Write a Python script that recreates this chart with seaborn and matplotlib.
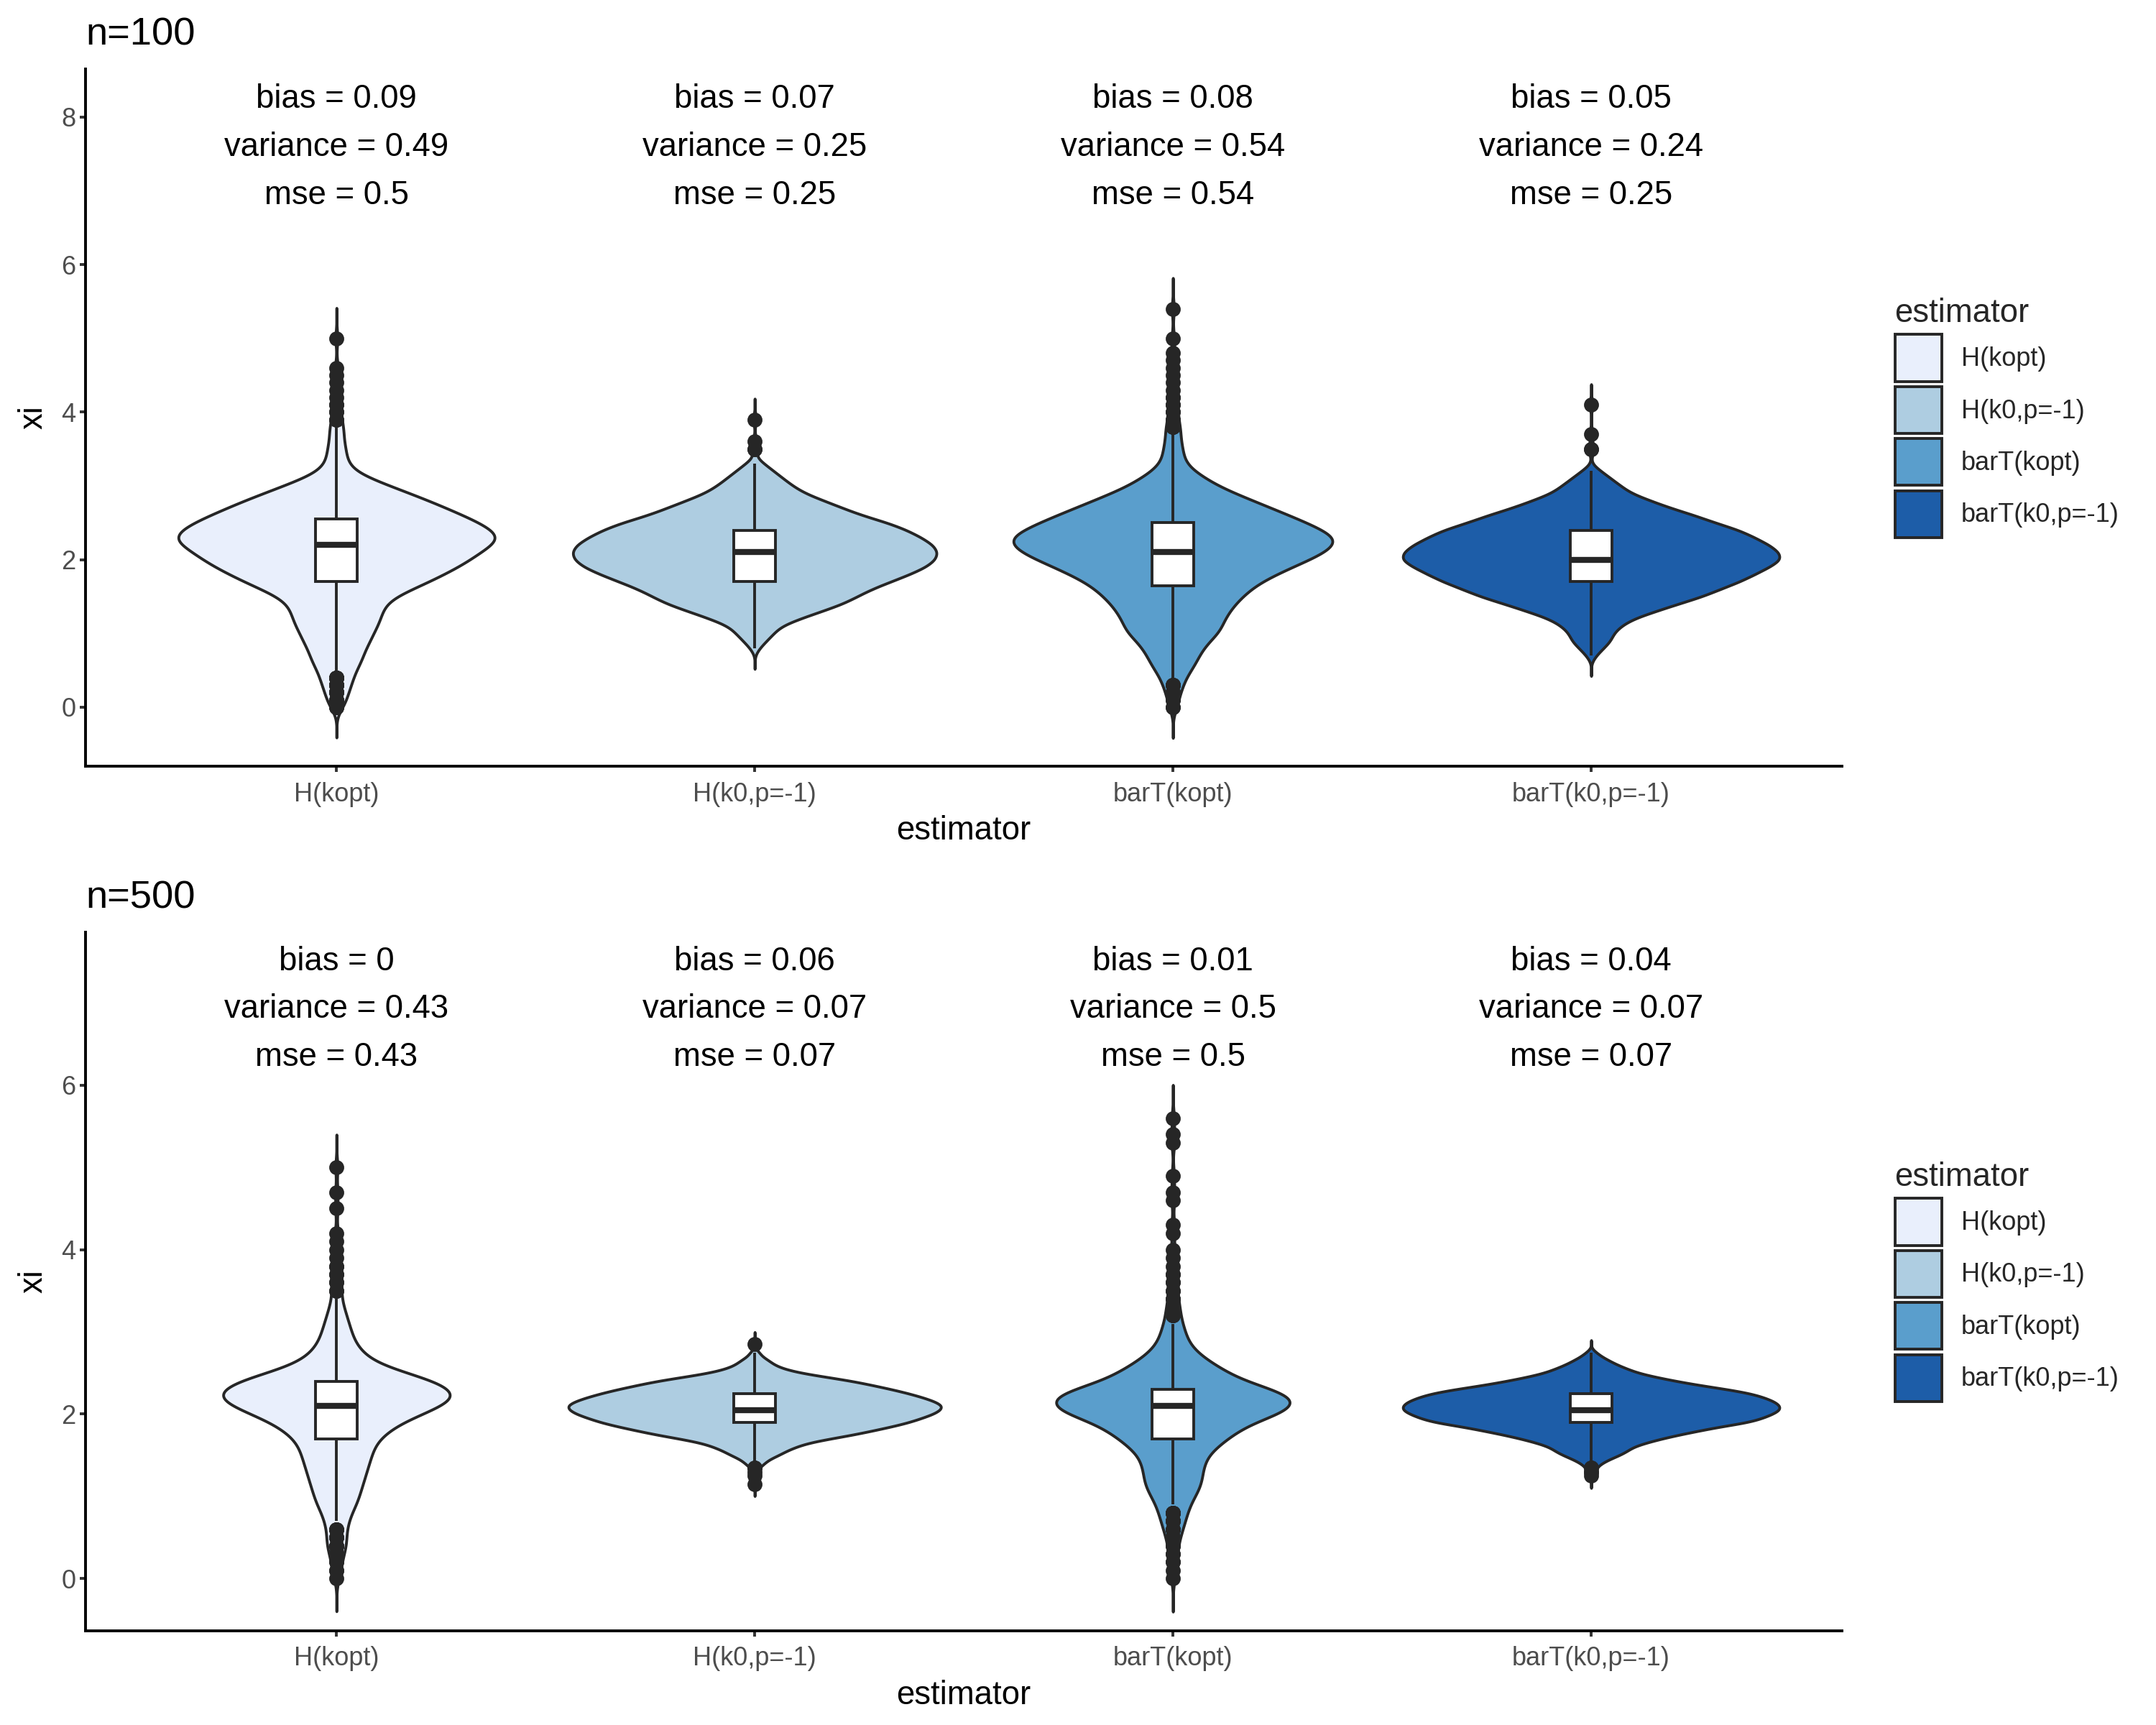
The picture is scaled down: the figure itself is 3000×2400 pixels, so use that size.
import numpy as np
import pandas as pd
import matplotlib
matplotlib.use("Agg")
import matplotlib.pyplot as plt
from matplotlib.patches import Patch
import seaborn as sns

estimators = ["H(kopt)", "H(k0,p=-1)", "barT(kopt)", "barT(k0,p=-1)"]
fill_colors = ["#E9EFFC", "#AECDE1", "#5A9ECC", "#1D5DA8"]

h_kopt_100 = {0.0: 3, 0.1: 4, 0.2: 5, 0.3: 6, 0.4: 7, 0.5: 8, 0.6: 10, 0.7: 11, 0.8: 12, 0.9: 14,
              1.0: 15, 1.1: 17, 1.2: 18, 1.3: 19, 1.4: 20, 1.5: 24, 1.6: 31, 1.7: 38, 1.8: 44, 1.9: 50,
              2.0: 55, 2.1: 59, 2.2: 64, 2.3: 68, 2.4: 64, 2.5: 59, 2.6: 52, 2.7: 45, 2.8: 38, 2.9: 30,
              3.0: 22, 3.1: 14, 3.2: 7, 3.3: 5, 3.4: 4, 3.5: 4, 3.6: 3, 3.7: 3, 3.8: 3, 3.9: 2,
              4.0: 2, 4.1: 2, 4.2: 1, 4.3: 1, 4.4: 1, 4.5: 1, 4.6: 1, 5.0: 1}
h_k0_100 = {0.8: 2, 0.9: 5, 1.0: 8, 1.1: 11, 1.2: 19, 1.3: 28, 1.4: 37, 1.5: 43, 1.6: 49, 1.7: 57,
            1.8: 65, 1.9: 72, 2.0: 76, 2.1: 77, 2.2: 75, 2.3: 70, 2.4: 64, 2.5: 56, 2.6: 45, 2.7: 37,
            2.8: 29, 2.9: 21, 3.0: 16, 3.1: 12, 3.2: 8, 3.3: 4, 3.5: 2, 3.6: 1, 3.9: 1}
bart_kopt_100 = {0.0: 2, 0.1: 2, 0.2: 3, 0.3: 4, 0.4: 5, 0.5: 7, 0.6: 9, 0.7: 10, 0.8: 12, 0.9: 14,
                 1.0: 18, 1.1: 19, 1.2: 20, 1.3: 22, 1.4: 24, 1.5: 27, 1.6: 30, 1.7: 34, 1.8: 40, 1.9: 46,
                 2.0: 53, 2.1: 59, 2.2: 63, 2.3: 64, 2.4: 58, 2.5: 52, 2.6: 45, 2.7: 38, 2.8: 31, 2.9: 24,
                 3.0: 17, 3.1: 13, 3.2: 8, 3.3: 5, 3.4: 4, 3.5: 4, 3.6: 3, 3.7: 3, 3.8: 3, 3.9: 2,
                 4.0: 2, 4.1: 2, 4.2: 2, 4.3: 1, 4.4: 1, 4.5: 1, 4.6: 1, 4.7: 1, 4.8: 1, 5.0: 1, 5.4: 1}
bart_k0_100 = {0.7: 2, 0.8: 5, 0.9: 8, 1.0: 9, 1.1: 12, 1.2: 17, 1.3: 26, 1.4: 35, 1.5: 45, 1.6: 52,
               1.7: 60, 1.8: 66, 1.9: 72, 2.0: 77, 2.1: 76, 2.2: 72, 2.3: 66, 2.4: 60, 2.5: 50, 2.6: 42,
               2.7: 32, 2.8: 24, 2.9: 16, 3.0: 12, 3.1: 8, 3.2: 4, 3.5: 2, 3.7: 1, 4.1: 1}

h_kopt_500 = {0.0: 1, 0.1: 2, 0.2: 2, 0.3: 3, 0.4: 4, 0.5: 4, 0.6: 4, 0.7: 5, 0.8: 6, 0.9: 8,
              1.0: 9, 1.1: 10, 1.2: 11, 1.3: 12, 1.4: 13, 1.5: 14, 1.6: 15, 1.7: 17, 1.8: 21, 1.9: 26,
              2.0: 34, 2.1: 42, 2.2: 48, 2.3: 46, 2.4: 40, 2.5: 28, 2.6: 17, 2.7: 12, 2.8: 9, 2.9: 7,
              3.0: 6, 3.1: 5, 3.2: 4, 3.3: 3, 3.4: 2, 3.5: 2, 3.6: 2, 3.7: 2, 3.8: 2, 3.9: 1,
              4.0: 1, 4.1: 1, 4.2: 1, 4.5: 1, 4.7: 1, 5.0: 1}
h_k0_500 = {1.15: 1, 1.25: 1, 1.3: 1, 1.35: 2, 1.4: 4, 1.45: 6, 1.5: 10, 1.55: 13, 1.6: 17, 1.65: 22,
            1.7: 31, 1.75: 41, 1.8: 49, 1.85: 57, 1.9: 64, 1.95: 69, 2.0: 74, 2.05: 77, 2.1: 78, 2.15: 75,
            2.2: 70, 2.25: 64, 2.3: 57, 2.35: 49, 2.4: 41, 2.45: 30, 2.5: 19, 2.55: 12, 2.6: 8, 2.65: 6,
            2.7: 3, 2.75: 2, 2.85: 1}
bart_kopt_500 = {0.0: 1, 0.1: 1, 0.2: 2, 0.3: 2, 0.4: 2, 0.5: 3, 0.6: 4, 0.7: 5, 0.8: 6, 0.9: 7,
                 1.0: 9, 1.1: 11, 1.2: 12, 1.3: 12, 1.4: 13, 1.5: 14, 1.6: 18, 1.7: 22, 1.8: 27, 1.9: 32,
                 2.0: 44, 2.1: 50, 2.2: 50, 2.3: 42, 2.4: 28, 2.5: 23, 2.6: 17, 2.7: 12, 2.8: 8, 2.9: 6,
                 3.0: 5, 3.1: 4, 3.2: 3, 3.3: 3, 3.4: 2, 3.5: 2, 3.6: 2, 3.7: 2, 3.8: 1, 3.9: 1,
                 4.0: 1, 4.2: 1, 4.3: 1, 4.6: 1, 4.7: 1, 4.9: 1, 5.3: 1, 5.4: 1, 5.6: 1}
bart_k0_500 = {1.25: 1, 1.3: 2, 1.35: 2, 1.4: 4, 1.45: 7, 1.5: 11, 1.55: 14, 1.6: 16, 1.65: 21, 1.7: 27,
               1.75: 34, 1.8: 42, 1.85: 50, 1.9: 61, 1.95: 66, 2.0: 70, 2.05: 73, 2.1: 73, 2.15: 71, 2.2: 67,
               2.25: 62, 2.3: 53, 2.35: 42, 2.4: 33, 2.45: 25, 2.5: 18, 2.55: 14, 2.6: 10, 2.65: 7, 2.7: 4,
               2.75: 2}

bias_100 = [0.09, 0.07, 0.08, 0.05]
var_100 = [0.49, 0.25, 0.54, 0.24]
mse_100 = [0.5, 0.25, 0.54, 0.25]
bias_500 = [0, 0.06, 0.01, 0.04]
var_500 = [0.43, 0.07, 0.5, 0.07]
mse_500 = [0.43, 0.07, 0.5, 0.07]


def make_frame(groups):
    est, xi = [], []
    for name, counts in zip(estimators, groups):
        vals = np.repeat(list(counts.keys()), list(counts.values()))
        xi.extend(vals)
        est.extend([name] * len(vals))
    return pd.DataFrame({"estimator": est, "xi": xi})


frame_100 = make_frame([h_kopt_100, h_k0_100, bart_kopt_100, bart_k0_100])
frame_500 = make_frame([h_kopt_500, h_k0_500, bart_kopt_500, bart_k0_500])

sns.set_theme(style="ticks")
plt.rcParams["font.family"] = ["Liberation Sans", "DejaVu Sans"]

LINE = "#262626"
LW = 1.4

fig = plt.figure(figsize=(15, 12), dpi=200)
ax_top = fig.add_axes([0.0397, 0.5558, 0.8147, 0.4042])
ax_bot = fig.add_axes([0.0397, 0.0546, 0.8147, 0.4050])

panels = [
    (ax_top, "n=100", frame_100, bias_100, var_100, mse_100, [0, 2, 4, 6, 8], (-0.8, 8.65), [8.24, 7.59, 6.94]),
    (ax_bot, "n=500", frame_500, bias_500, var_500, mse_500, [0, 2, 4, 6], (-0.635, 7.86), [7.505, 6.925, 6.335]),
]

for ax, title, df, bias, var, mse, yticks, ylim, text_y in panels:
    # common_norm so the widest violin of the panel sets the scale (equal areas)
    sns.violinplot(data=df, x="estimator", y="xi", hue="estimator", order=estimators,
                   hue_order=estimators, palette=fill_colors, saturation=1, inner=None,
                   density_norm="area", common_norm=True, width=0.9, cut=4, bw_method=0.14,
                   gridsize=400, linewidth=LW, linecolor=LINE, dodge=False, legend=False, ax=ax)
    sns.boxplot(data=df, x="estimator", y="xi", order=estimators, width=0.1, color="white",
                saturation=1, linecolor=LINE, linewidth=LW, showcaps=False,
                medianprops={"color": LINE, "linewidth": 3.0, "solid_capstyle": "butt"},
                flierprops={"marker": "o", "markerfacecolor": LINE, "markeredgecolor": LINE,
                            "markersize": 6.5},
                ax=ax)

    for i in range(len(estimators)):
        labels = [f"bias = {bias[i]:g}", f"variance = {var[i]:g}", f"mse = {mse[i]:g}"]
        for lab, ty in zip(labels, text_y):
            ax.text(i, ty, lab, ha="center", va="center", fontsize=16.4, color="black")

    ax.set_xlim(-0.6, 3.6)
    ax.set_ylim(*ylim)
    ax.set_yticks(yticks)
    ax.set_title(title, loc="left", fontsize=19.6, pad=12, color="black")
    ax.set_xlabel("estimator", fontsize=16.4, labelpad=4, color="black")
    ax.set_ylabel("xi", fontsize=16.4, labelpad=6, color="black")
    ax.tick_params(axis="both", length=2.75, width=LW, color="#333333", labelsize=13,
                   labelcolor="#4D4D4D")
    ax.tick_params(axis="x", pad=5)
    ax.tick_params(axis="y", pad=2.2)
    for side in ["top", "right"]:
        ax.spines[side].set_visible(False)
    for side in ["left", "bottom"]:
        ax.spines[side].set_linewidth(LW)
        ax.spines[side].set_color("black")

    handles = [Patch(facecolor=c, edgecolor=LINE, linewidth=LW, label=e)
               for e, c in zip(estimators, fill_colors)]
    ax.legend(handles=handles, title="estimator", loc="center left", bbox_to_anchor=(1.03, 0.5),
              frameon=False, fontsize=13, title_fontsize=16.4, handlelength=1.8, handleheight=2.4,
              labelspacing=0.2, handletextpad=0.75, borderaxespad=0, borderpad=0,
              alignment="left")

fig.savefig("out.png", dpi=200)
